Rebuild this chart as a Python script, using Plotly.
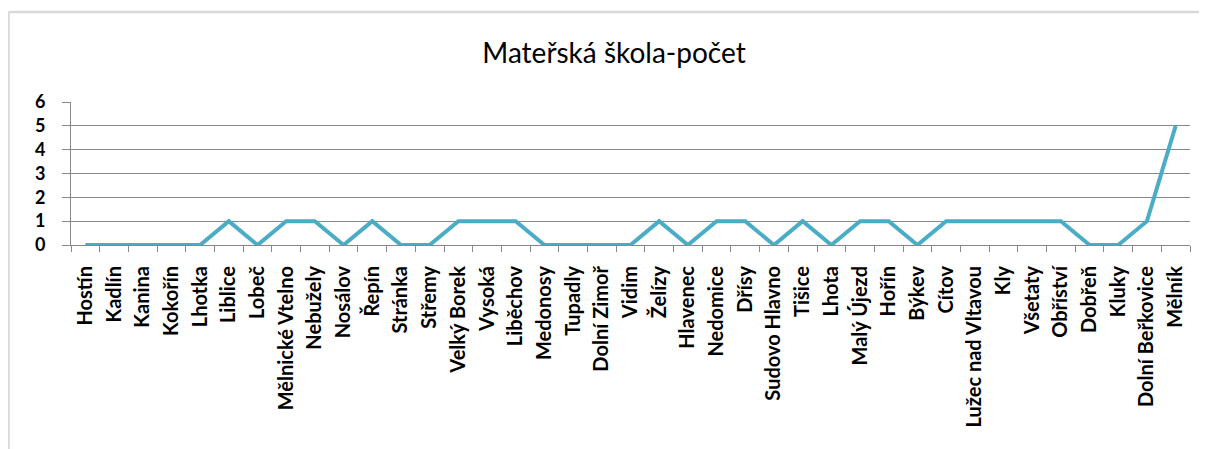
import plotly.graph_objects as go

obce = [
    "Hostín", "Kadlín", "Kanina", "Kokořín", "Lhotka", "Liblice", "Lobeč",
    "Mělnické Vtelno", "Nebužely", "Nosálov", "Řepín", "Stránka", "Střemy",
    "Velký Borek", "Vysoká", "Liběchov", "Medonosy", "Tupadly", "Dolní Zimoř",
    "Vidim", "Želízy", "Hlavenec", "Nedomice", "Dřísy", "Sudovo Hlavno",
    "Tišice", "Lhota", "Malý Újezd", "Hořín", "Býkev", "Cítov",
    "Lužec nad Vltavou", "Kly", "Všetaty", "Obříství", "Dobřeň", "Kluky",
    "Dolní Beřkovice", "Mělník"
]

pocet = [
    0, 0, 0, 0, 0, 1, 0,
    1, 1, 0, 1, 0, 0,
    1, 1, 1, 0, 0, 0,
    0, 1, 0, 1, 1, 0,
    1, 0, 1, 1, 0, 1,
    1, 1, 1, 1, 0, 0,
    1, 5
]

y_ticks = [0, 1, 2, 3, 4, 5, 6]

# the page body has an 8px margin, so figure pixels = screen pixels - 8
W, H = 1199, 441
L, R, T, B = 63, 17, 94, 204
pw = W - L - R
ph = H - T - B


def px_x(px):
    return (px - L) / pw


def px_y(py):
    return (H - B - py) / ph


fig = go.Figure(
    go.Scatter(
        x=obce,
        y=pocet,
        mode="lines",
        line=dict(color="#4BACC6", width=4),
        showlegend=False,
        hoverinfo="x+y"
    )
)

frame = dict(color="#d9d9d9", width=2.5)
fig.add_shape(type="line", xref="paper", yref="paper",
              x0=px_x(0.5), y0=px_y(4), x1=px_x(W), y1=px_y(4),
              line=frame)
fig.add_shape(type="line", xref="paper", yref="paper",
              x0=px_x(0.5), y0=px_y(4), x1=px_x(0.5), y1=px_y(H),
              line=frame)

fig.update_layout(
    width=W,
    height=H,
    margin=dict(l=L, r=R, t=T, b=B, autoexpand=False),
    paper_bgcolor="white",
    plot_bgcolor="white",
    title=dict(
        text="Mateřská škola-počet",
        x=606 / W,
        xanchor="center",
        xref="container",
        yref="container",
        y=1 - 45 / H,
        yanchor="middle",
        font=dict(family="Lato", size=28, color="#000000")
    ),
    xaxis=dict(
        type="category",
        range=[-0.5, len(obce) - 0.5],
        automargin=False,
        tickson="boundaries",
        ticks="outside",
        ticklen=6,
        tickcolor="#888888",
        tickangle=-90,
        showgrid=False,
        showline=True,
        linecolor="#888888",
        linewidth=1,
        ticklabelstandoff=12,
        tickfont=dict(family="Lato", size=20, color="#000000", weight="bold")
    ),
    yaxis=dict(
        range=[0, 6],
        automargin=False,
        tickvals=y_ticks,
        ticks="outside",
        ticklen=8,
        tickcolor="#888888",
        showgrid=True,
        gridcolor="#888888",
        gridwidth=1,
        showline=True,
        linecolor="#888888",
        linewidth=1,
        zeroline=False,
        ticklabelstandoff=13,
        tickfont=dict(family="Lato", size=18, color="#000000",
                      weight="bold")
    )
)

fig.write_html("out.html")
